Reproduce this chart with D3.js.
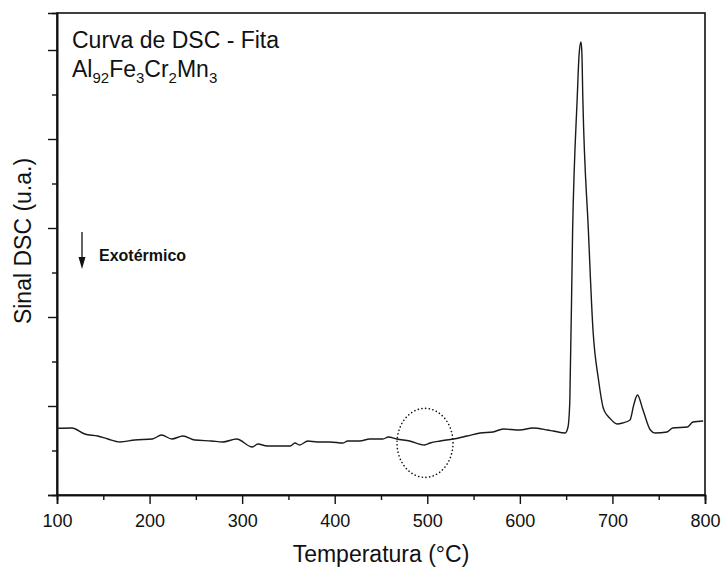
<!DOCTYPE html>
<html><head><meta charset="utf-8">
<script src="https://cdn.jsdelivr.net/npm/d3@7"></script>
<style>body{margin:0;background:#fff}svg{display:block}text{font-family:"Liberation Sans",Arial,sans-serif;fill:#111}</style>
</head><body>
<svg id="c" width="724" height="570"></svg>
<script>
// Temperature (°C)
const temps = [100,116,130,144,155,168,184,203,213,224,236,249,267,279,294,311,317,327,341,352,357,362,371,381,395,409,414,427,438,452,458,467,481,497,503,514,528,543,557,571,582,600,614,630,636,649,652,654,657,662,664,666,667,668,674,679,685,690,694,697,705,711,719,723,727,733,741,746,759,765,781,787,798];
// DSC signal (arbitrary units)
const signal = [0.75,0.753,0.685,0.663,0.629,0.596,0.618,0.629,0.674,0.629,0.663,0.618,0.607,0.596,0.629,0.539,0.573,0.551,0.551,0.551,0.584,0.562,0.607,0.596,0.596,0.584,0.607,0.607,0.629,0.629,0.652,0.629,0.607,0.562,0.584,0.607,0.629,0.663,0.697,0.708,0.742,0.730,0.753,0.730,0.719,0.697,0.764,1.067,2.978,4.472,4.95,5.09,4.97,4.472,2.978,1.854,1.292,0.98,0.9,0.865,0.798,0.809,0.843,1.011,1.124,0.955,0.730,0.697,0.708,0.753,0.764,0.820,0.831];
const xTicks = [100,200,300,400,500,600,700,800];
const xMinor = [150,250,350,450,550,650,750];
const yMajor = [0,1,2,3,4,5];
const yMinor = [0.5,1.5,2.5,3.5,4.5];
const xLabel = "Temperatura (°C)";
const yLabel = "Sinal DSC (u.a.)";
const titleLine1 = "Curva de DSC - Fita";
const formula = [["Al","92"],["Fe","3"],["Cr","2"],["Mn","3"]];
const annotation = "Exotérmico";
const circleCenter = [497, 0.58];

const svg = d3.select("#c");
const L=57, R=705, T=13, B=495;
const x = d3.scaleLinear().domain([100,800]).range([L,R]);
const y = d3.scaleLinear().domain([0,(B-T)/89]).range([B,T]);

// frame
svg.append("rect").attr("x",L).attr("y",T).attr("width",R-L).attr("height",B-T)
  .attr("fill","none").attr("stroke","#111").attr("stroke-width",1.6);

// x axis
const gx = svg.append("g").attr("transform",`translate(0,${B})`);
gx.call(d3.axisBottom(x).tickValues(xTicks).tickSize(9).tickPadding(10).tickFormat(d3.format("d")));
gx.append("g").call(d3.axisBottom(x).tickValues(xMinor).tickSize(5).tickFormat(""));
// y axis
const gy = svg.append("g").attr("transform",`translate(${L},0)`);
gy.call(d3.axisLeft(y).tickValues(yMajor).tickSize(9).tickFormat(""));
gy.append("g").call(d3.axisLeft(y).tickValues(yMinor).tickSize(5).tickFormat(""));
svg.selectAll(".domain").attr("stroke","#111").attr("stroke-width",1.6);
svg.selectAll(".tick line").attr("stroke","#111").attr("stroke-width",1.4);
gx.selectAll(".tick text").style("font-family","'Liberation Sans',Arial,sans-serif").style("font-size","18px").attr("fill","#111");

// curve
const data = temps.map((t,i)=>[t,signal[i]]);
svg.append("path").datum(data)
  .attr("d",d3.line().x(d=>x(d[0])).y(d=>y(d[1])).curve(d3.curveMonotoneX))
  .attr("fill","none").attr("stroke","#1a1a1a").attr("stroke-width",1.4);

// labels
svg.append("text").attr("x",(L+R)/2).attr("y",562).attr("text-anchor","middle")
  .style("font-size","23px").text(xLabel);
svg.append("text").attr("transform",`translate(31,${(T+B)/2-13}) rotate(-90)`).attr("text-anchor","middle")
  .style("font-size","23px").text(yLabel);

svg.append("text").attr("x",72).attr("y",48).style("font-size","23px").text(titleLine1);
const f = svg.append("text").attr("x",72).attr("y",77).style("font-size","23px");
formula.forEach(([el,n],i)=>{
  f.append("tspan").text(el).attr("dy",i===0?0:-6);
  f.append("tspan").text(n).style("font-size","15px").attr("dy",6);
});

// annotation
svg.append("text").attr("x",99).attr("y",261).style("font-size","16px").style("font-weight","bold").text(annotation);
svg.append("line").attr("x1",82).attr("x2",82).attr("y1",232).attr("y2",260).attr("stroke","#111").attr("stroke-width",1.3);
svg.append("path").attr("d","M78.5,257 L85.5,257 L82,269 Z").attr("fill","#111");

// dotted ellipse
svg.append("ellipse").attr("cx",x(circleCenter[0]) + 0.5).attr("cy",y(circleCenter[1]) - 0.5)
  .attr("rx",28).attr("ry",34.5).attr("fill","none").attr("stroke","#111").attr("stroke-width",1.6)
  .attr("stroke-dasharray","0.1 3.6").attr("stroke-linecap","round");
</script>
</body></html>
